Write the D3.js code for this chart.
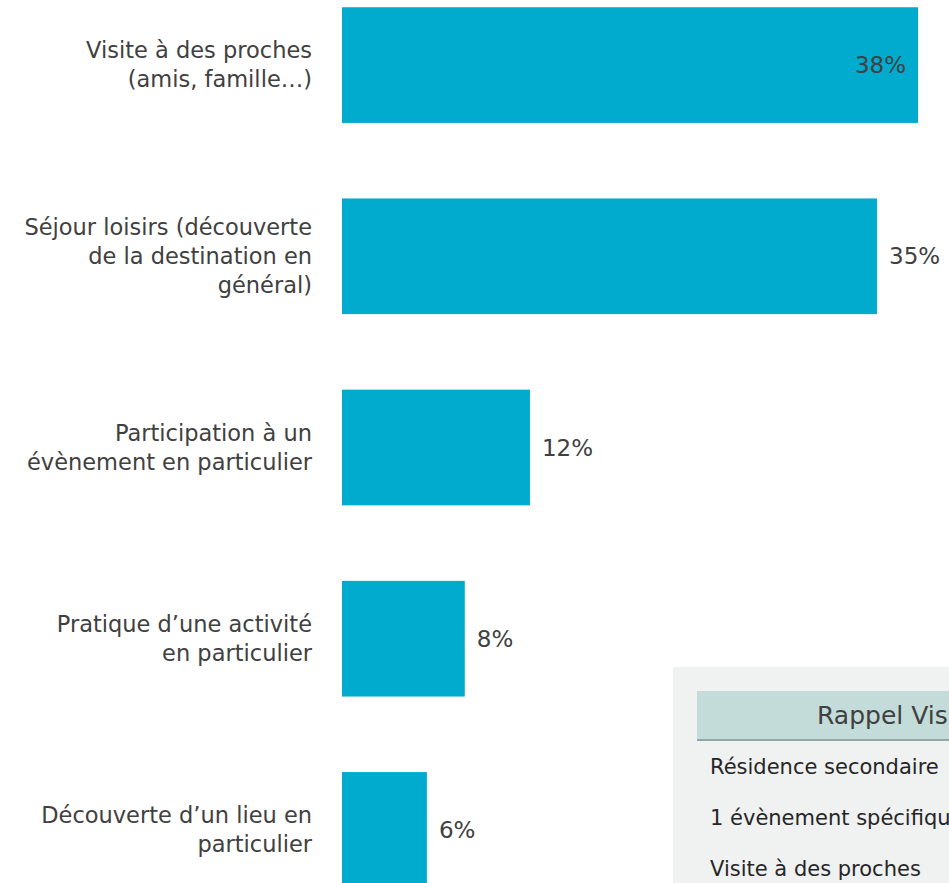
<!DOCTYPE html>
<html>
<head>
<meta charset="utf-8">
<script src="https://cdn.jsdelivr.net/npm/d3@7"></script>
<style>
  body { margin: 0; background: #fff; overflow: hidden; }
  svg { display: block; font-family: "Century Gothic", "DejaVu Sans", sans-serif; }
</style>
</head>
<body>
<script>
// motifs de séjour
const categories = [
  ['Visite à des proches', '(amis, famille…)'],
  ['Séjour loisirs (découverte', 'de la destination en', 'général)'],
  ['Participation à un', 'évènement en particulier'],
  ['Pratique d’une activité', 'en particulier'],
  ['Découverte d’un lieu en', 'particulier']
]
const values = [38.0, 35.3, 12.4, 8.1, 5.6]

// encadré rappel
const rappelTitle = 'Rappel Visiteurs'
const rappelRows = ['Résidence secondaire', '1 évènement spécifique', 'Visite à des proches']

const W = 949, H = 883
const svg = d3.select('body').append('svg').attr('width', W).attr('height', H)

const x = d3.scaleLinear().domain([0, 38]).range([342, 918])
const y = d3.scaleBand()
  .domain(d3.range(categories.length))
  .range([-31, 926])
  .paddingInner(0.395)
  .paddingOuter(0.2)

svg.selectAll('rect.bar')
  .data(values)
  .join('rect')
  .attr('class', 'bar')
  .attr('x', x(0))
  .attr('y', (d, i) => y(i))
  .attr('width', d => x(d) - x(0))
  .attr('height', y.bandwidth())
  .attr('fill', '#00abce')

// valeurs
svg.selectAll('text.val')
  .data(values)
  .join('text')
  .attr('class', 'val')
  .attr('x', (d, i) => i === 0 ? x(d) - 12 : x(d) + 12)
  .attr('y', (d, i) => y(i) + y.bandwidth() / 2)
  .attr('dy', '0.35em')
  .attr('text-anchor', (d, i) => i === 0 ? 'end' : 'start')
  .attr('font-size', 23)
  .attr('fill', '#404040')
  .text(d => Math.round(d) + '%')

// libellés
const lh = 29
categories.forEach((lines, i) => {
  const cy = y(i) + y.bandwidth() / 2
  const t = svg.append('text')
    .attr('text-anchor', 'end')
    .attr('font-size', 22.5)
    .attr('fill', '#404040')
  lines.forEach((l, j) => {
    t.append('tspan')
      .attr('x', 312)
      .attr('y', cy + (j - (lines.length - 1) / 2) * lh)
      .attr('dy', '0.35em')
      .text(l)
  })
})

// encadré
const box = svg.append('g')
box.append('rect').attr('x', 673).attr('y', 667).attr('width', 400).attr('height', 300).attr('fill', '#f0f1f1')
box.append('rect').attr('x', 697).attr('y', 691).attr('width', 400).attr('height', 49).attr('fill', '#c3dbd9')
box.append('rect').attr('x', 697).attr('y', 739).attr('width', 400).attr('height', 2).attr('fill', '#8fa8a5')
box.append('text')
  .attr('x', 817).attr('y', 724)
  .attr('font-size', 25)
  .attr('fill', '#404040')
  .text(rappelTitle)
box.selectAll('text.row')
  .data(rappelRows)
  .join('text')
  .attr('class', 'row')
  .attr('x', 710)
  .attr('y', (d, i) => 767 + i * 51)
  .attr('dy', '0.35em')
  .attr('font-size', 21)
  .attr('fill', '#262626')
  .text(d => d)
</script>
</body>
</html>
